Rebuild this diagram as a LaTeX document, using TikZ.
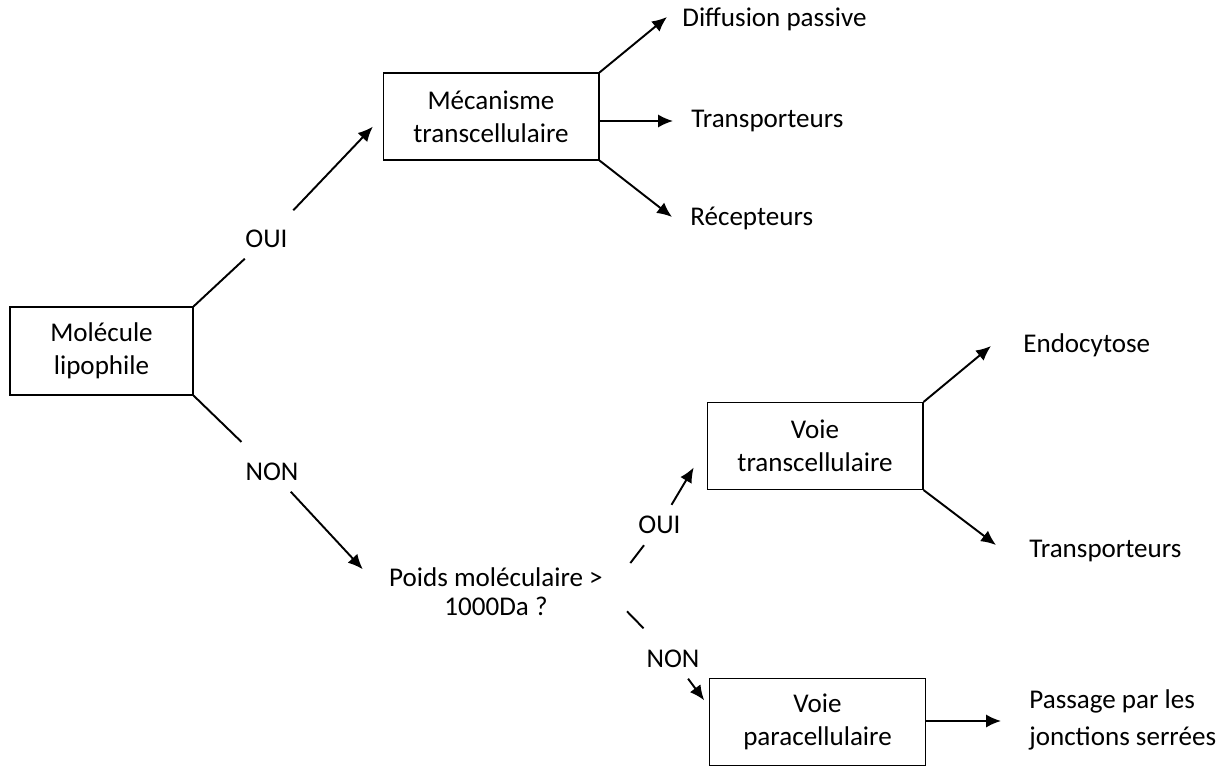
\documentclass[tikz,border=0pt]{standalone}
\usepackage{fontspec}
\setmainfont{Carlito}
\usetikzlibrary{arrows.meta}

\begin{document}
\begin{tikzpicture}[x=0.02cm,y=-0.02cm,>={Latex[length=8.5pt,width=7.5pt]},
  font=\fontsize{15.4}{19}\selectfont]
\tikzset{boite/.style = {draw, line width=0.6pt, align=center, minimum width=4.32cm, minimum height=1.74cm},
  fleche/.style = {->, line width=1.1pt},
  trait/.style = {line width=1.1pt},
  rep/.style = {inner sep=0.22cm},
  feuille/.style = {anchor=base west, inner sep=0pt}}
\useasboundingbox (0,0) rectangle (1226,767);
% boites
\node[boite, minimum width=3.66cm, minimum height=1.76cm] (mol) at (101.5,351) {Molécule\\lipophile};
\node[boite] (meca) at (491,116.5) {Mécanisme\\transcellulaire};
\node[boite] (vtrans) at (815,446) {Voie\\transcellulaire};
\node[boite] (vpara) at (817.5,722) {Voie\\paracellulaire};
\node[align=center, inner sep=0.1cm, font=\fontsize{15.4}{16.5}\selectfont] (poids) at (496,592) {Poids moléculaire >\\1000Da ?};
% oui / non
\node[rep] (oui1) at (266.5,238.5) {OUI};
\node[rep] (non1) at (272,471.5) {NON};
\node[rep] (oui2) at (659.5,525) {OUI};
\node[rep] (non2) at (673,658.5) {NON};
% textes de fin
\node[feuille] (diff) at (682,27) {Diffusion passive};
\node[feuille] (tr1) at (691,127) {Transporteurs};
\node[feuille] (rec) at (690,225) {Récepteurs};
\node[feuille] (endo) at (1023,352) {Endocytose};
\node[feuille] (tr2) at (1029,557) {Transporteurs};
\node[feuille, align=left, font=\fontsize{15.4}{21}\selectfont] (pass) at (1029,745) {Passage par les\\jonctions serrées};
\coordinate (pDiff) at (667,17);
\coordinate (pTr1) at (673,121);
\coordinate (pRec) at (672,217);
\coordinate (pEndo) at (991,346);
\coordinate (pTr2) at (996,545);
\coordinate (pPass) at (1001,721);
% fleches
\draw[trait] (mol.north east) -- (oui1);
\draw[fleche, shorten <=0.22cm, shorten >=0.28cm] (oui1) -- (meca.west);
\draw[trait, shorten >=0.27cm] (mol.south east) -- (non1);
\draw[fleche, shorten >=0.62cm] (non1) -- (poids.west);
\draw[trait, shorten <=0.73cm] (poids.east) -- (oui2);
\draw[fleche, shorten >=0.5cm] (oui2) -- (vtrans.west);
\draw[trait, shorten <=0.54cm, shorten >=0.28cm] (poids.east) -- (non2);
\draw[fleche, shorten >=0.16cm] (non2) -- (vpara.172);
\draw[fleche] (meca.north east) -- (pDiff);
\draw[fleche] (meca.east |- pTr1) -- (pTr1);
\draw[fleche] (meca.south east) -- (pRec);
\draw[fleche] (vtrans.north east) -- (pEndo);
\draw[fleche] (vtrans.south east) -- (pTr2);
\draw[fleche] (vpara.east |- pPass) -- (pPass);
\end{tikzpicture}
\end{document}
